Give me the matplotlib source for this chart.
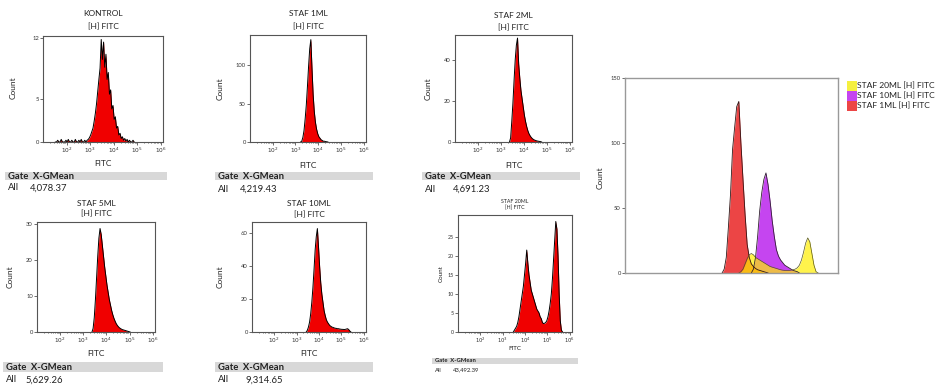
import numpy as np
import matplotlib
matplotlib.use('Agg')
import matplotlib.pyplot as plt
from matplotlib.patches import Rectangle
from matplotlib.ticker import LogLocator, NullFormatter, FixedLocator

plt.rcParams['font.family'] = ['Lato', 'DejaVu Sans']

W, H = 938, 392
STEP = 0.05  # histogram bin width in log10 units

# ---------------- data (log10 start of first bin, counts) ----------------
kontrol_start = 1.50
kontrol_counts = [0, 0, 0.2, 0, 0, 0.3, 0, 0, 0, 0.2, 0, 0.3, 0, 0, 0.2, 0, 0, 0.3, 0, 0,
                  0.2, 0, 0.3, 0, 0, 0.2, 0, 0.2,
                  0.3, 0.5, 0.8, 1.2, 1.6, 2.4, 3.3, 4.4, 5.8, 7.2, 8.5, 11.8, 9.5, 11.5, 8.6,
                  10.1, 7.2, 8.0, 5.5, 6.0, 3.8, 4.2, 2.6, 2.9, 1.6, 1.8, 0.8, 1.0, 0.4, 0.6,
                  0.2, 0.4, 0.1, 0.3, 0, 0.2, 0, 0, 0.2, 0]

staf1_start = 3.20
staf1_counts = [0, 1, 6, 15, 30, 48, 72, 98, 121, 133, 96, 62, 40, 26, 17, 11, 7, 5, 3, 2,
                1, 1, 0.5, 0.3, 0]

staf2_start = 3.35
staf2_counts = [0, 2, 10, 19, 30, 40, 47, 50.5, 38, 31, 25, 21, 17, 13, 10, 7.5, 5.5, 4, 3,
                2.2, 1.6, 1.2, 0.9, 0.7, 0.5, 0.4, 0.3, 0.2, 0]

staf5_start = 3.35
staf5_counts = [0, 1, 4, 9, 15, 21, 26, 28.7, 27, 24, 21, 18, 15.5, 13, 11, 9, 7.5, 6, 4.8,
                3.8, 3, 2.3, 1.8, 1.4, 1.1, 0.9, 0.7, 0.6, 0.5, 0.4, 0.3, 0.2, 0.1, 0]

staf10_start = 3.40
staf10_counts = [0, 1, 3, 6, 11, 18, 27, 38, 50, 58, 63, 52, 40, 30, 23, 18, 13, 10, 7.5, 6,
                 5, 4, 3.5, 3, 2.8, 2.5, 2.3, 2.2, 2, 2, 1.8, 1.7, 1.6, 1.6, 1.5, 1.6, 1.8,
                 2, 1.5, 0.6, 0]

staf20_start = 3.45
staf20_counts = [0, 0.5, 1, 1.5, 2.5, 4, 6, 8, 10, 12, 15, 18, 21.5, 18, 15, 13, 11, 10, 9,
                 8, 7, 6, 5.5, 5, 4, 3.5, 2.5, 2.2, 2.3, 2.5, 3, 4, 5.5, 7.5, 10, 14, 19,
                 24, 29, 27, 20, 10, 3, 0.5, 0]

# overlay histograms
ov_red_start = 3.30
ov_red_counts = [0, 3, 12, 35, 60, 95, 112, 128, 132, 100, 72, 45, 22, 12, 7, 5, 3.5, 2.5,
                 2, 1.5, 1, 0.5, 0]
ov_purple_start = 4.00
ov_purple_counts = [0, 3, 12, 28, 48, 62, 72, 77, 68, 55, 40, 28, 18, 13, 10, 8, 6, 5, 4, 3,
                    2, 1.5, 1, 0]
ov_yellow_start = 3.70
ov_yellow_counts = [0, 1, 3, 7, 11, 14, 15, 14, 12, 11, 10, 9, 8, 7, 6, 5, 4.5, 4, 3.5, 3,
                    2.5, 2.2, 2, 2, 2, 2.2, 2.5, 3, 4, 6, 10, 16, 23, 27, 24, 15, 6, 1, 0]

titles = ["KONTROL", "STAF 1ML", "STAF 2ML", "STAF 5ML", "STAF 10ML", "STAF 20ML"]
gmeans = ["4,078.37", "4,219.43", "4,691.23", "5,629.26", "9,314.65", "43,492.39"]
legend_labels = ["STAF 20ML [H] FITC", "STAF 10ML [H] FITC", "STAF 1ML [H] FITC"]
xtick_exps = [2, 3, 4, 5, 6]

RED = '#F00000'

fig = plt.figure(figsize=(W / 100, H / 100), dpi=100)
fig.patch.set_facecolor('white')


def add_ax(x0, y0, x1, y1):
    return fig.add_axes([x0 / W, 1 - y1 / H, (x1 - x0) / W, (y1 - y0) / H])


def ftext(x, y, s, size, ha='left', weight='normal', **kw):
    fig.text(x / W, 1 - y / H, s, fontsize=size, ha=ha, va='center',
             weight=weight, color='#222222', **kw)


def centers_of(start, counts):
    return 10 ** (start + STEP * (np.arange(len(counts)) + 0.5))


def style_axes(ax, lw=0.8):
    for s in ax.spines.values():
        s.set_color('#555555')
        s.set_linewidth(lw)


def hist(ax, start, counts, fc, ec, lw, alpha=1.0):
    c = centers_of(start, counts)
    ax.fill_between(c, 0, counts, color=fc, lw=0, alpha=alpha)
    ax.plot(c, counts, color=ec, lw=lw)


def panel(rect, start, counts, ytop, yticks, title, gmean, tpos, ypos_label, gate,
          small=False):
    x0, y0, x1, y1 = rect
    ax = add_ax(*rect)
    hist(ax, start, counts, RED, 'black', 0.7)
    ax.set_xscale('log')
    ax.set_xlim(10 ** 1, 10 ** 6.1)
    ax.set_ylim(0, ytop)
    ax.set_xticks([10.0 ** k for k in xtick_exps])
    ax.set_xticklabels(['$10^{%d}$' % k for k in xtick_exps])
    ax.xaxis.set_minor_locator(LogLocator(base=10, subs=np.arange(2, 10)))
    ax.xaxis.set_minor_formatter(NullFormatter())
    ax.set_yticks(yticks)
    ax.tick_params(axis='both', which='major', labelsize=3.8 if small else 4.2,
                   length=2, width=0.5, pad=1, colors='#333333')
    ax.tick_params(axis='both', which='minor', length=1, width=0.4)
    style_axes(ax)
    cx = (x0 + x1) / 2
    ts = 3.8 if small else 6
    ftext(cx, tpos[0], title, ts, ha='center')
    ftext(cx, tpos[1], "[H] FITC", ts, ha='center')
    ftext(cx, tpos[2], "FITC", 4.5 if small else 6, ha='center')
    ftext(ypos_label[0], ypos_label[1], "Count", 4.5 if small else 6, ha='center',
          rotation=90)
    gx0, gx1, gy0, gy1, gt, gv, gxv = gate
    fig.add_artist(Rectangle((gx0 / W, 1 - gy1 / H), (gx1 - gx0) / W, (gy1 - gy0) / H,
                             transform=fig.transFigure, color='#d8d8d8', lw=0))
    gs = 4.2 if small else 6.8
    ftext(gx0 + 3, gt, "Gate  X-GMean", gs, weight='bold')
    ftext(gx0 + 3, gv, "All", gs)
    ftext(gxv, gv, gmean, gs)
    return ax


# row 1
panel((43, 36, 163, 142), kontrol_start, kontrol_counts, 12.2, [0, 5, 12], titles[0],
      gmeans[0], (14, 27, 163), (13, 88), (5, 167, 172, 180, 176, 188, 30))
panel((250, 35, 366, 142), staf1_start, staf1_counts, 139, [0, 50, 100], titles[1],
      gmeans[1], (14, 27, 165), (220, 89), (215, 373, 172, 180, 176, 189, 240))
panel((455, 35, 572, 142), staf2_start, staf2_counts, 52, [0, 20, 40], titles[2],
      gmeans[2], (15, 28, 165), (428, 89), (422, 580, 172, 180, 176, 189, 453))
# row 2
panel((37, 222, 155, 332), staf5_start, staf5_counts, 30.5, [0, 10, 20, 30], titles[3],
      gmeans[3], (203, 214, 353), (10, 277), (3, 163, 362, 372, 367, 380, 25))
panel((252, 222, 366, 332), staf10_start, staf10_counts, 67, [0, 20, 40, 60], titles[4],
      gmeans[4], (203, 215, 353), (220, 277), (215, 373, 362, 372, 367, 380, 245))
panel((458, 215, 572, 332), staf20_start, staf20_counts, 30.7, [0, 5, 10, 15, 20, 25],
      titles[5], gmeans[5], (202, 208, 349), (441, 274), (432, 578, 358, 364, 361, 370, 453),
      small=True)

# overlay
ax = add_ax(625, 78, 838, 273)
hist(ax, ov_purple_start, ov_purple_counts, '#C545F0', '#302030', 0.6)
hist(ax, ov_red_start, ov_red_counts, '#EC4545', '#301515', 0.6)
hist(ax, ov_yellow_start, ov_yellow_counts, '#FFEE00', '#555520', 0.5, alpha=0.7)
ax.set_xscale('log')
ax.set_xlim(10 ** 1, 10 ** 6.1)
ax.set_ylim(0, 150)
ax.set_yticks([0, 50, 100, 150])
ax.set_xticks([])
ax.xaxis.set_minor_locator(FixedLocator([]))
ax.tick_params(axis='y', labelsize=4.2, length=2, width=0.5, pad=1, colors='#333333')
style_axes(ax, 1.0)
for s in ax.spines.values():
    s.set_color('#999999')
ftext(600, 178, "Count", 6, ha='center', rotation=90)

leg_colors = ['#F5F040', '#C545F0', '#EC4545']
for i, (lab, col) in enumerate(zip(legend_labels, leg_colors)):
    yc = 86 + 10 * i
    fig.add_artist(Rectangle((847 / W, 1 - (yc + 5) / H), 10 / W, 10 / H,
                             transform=fig.transFigure, color=col, lw=0))
    ftext(857, yc, lab, 6.1)

fig.savefig('out.png', dpi=100, facecolor='white')
